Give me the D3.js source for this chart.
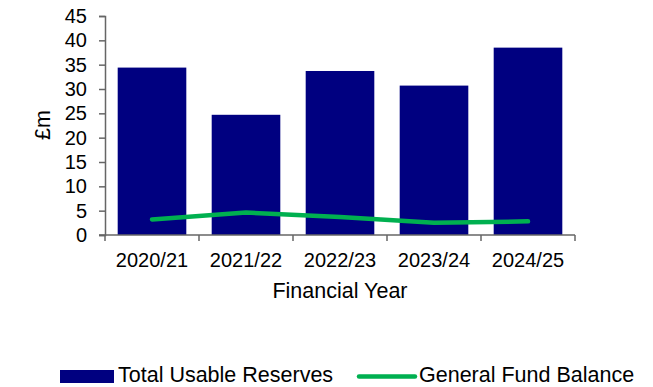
<!DOCTYPE html>
<html>
<head>
<meta charset="utf-8">
<script src="https://cdn.jsdelivr.net/npm/d3@7"></script>
<style>
  html, body { margin: 0; padding: 0; background: #fff; }
  text { font-family: "Liberation Sans", Arial, sans-serif; fill: #000; }
</style>
</head>
<body>
<svg id="chart" width="653" height="387"></svg>
<script>
const categories = ["2020/21", "2021/22", "2022/23", "2023/24", "2024/25"];
const totalUsableReserves = [34.4, 24.7, 33.7, 30.7, 38.5];
const generalFundBalance = [3.2, 4.6, 3.7, 2.5, 2.8];
const yTicks = [0, 5, 10, 15, 20, 25, 30, 35, 40, 45];
const seriesNames = ["Total Usable Reserves", "General Fund Balance"];
const xTitle = "Financial Year";
const yTitle = "£m";

(function () {
const svg = d3.select("#chart");
const fs = 20, fsT = 21.5;
const pLeft = 105, pRight = 575, pTop = 16, pBottom = 235;

const x = d3.scaleBand().domain(categories).range([pLeft, pRight]).paddingInner(0.27).paddingOuter(0.135);
const y = d3.scaleLinear().domain([0, 45]).range([pBottom, pTop]);

// bars
svg.append("g").selectAll("rect").data(categories).join("rect")
  .attr("x", d => x(d))
  .attr("y", (d, i) => y(totalUsableReserves[i]))
  .attr("width", x.bandwidth())
  .attr("height", (d, i) => y(0) - y(totalUsableReserves[i]))
  .attr("fill", "#000080");

// line
const line = d3.line()
  .x((d, i) => x(categories[i]) + x.bandwidth() / 2)
  .y(d => y(d));
svg.append("path").datum(generalFundBalance)
  .attr("d", line)
  .attr("fill", "none")
  .attr("stroke", "#00B050")
  .attr("stroke-width", 4.5)
  .attr("stroke-linecap", "round")
  .attr("stroke-linejoin", "round");

// y axis
const yAxis = svg.append("g").attr("transform", `translate(${pLeft},0)`)
  .call(d3.axisLeft(y).tickValues(yTicks).tickSize(6).tickPadding(12));
yAxis.select(".domain").attr("stroke", "#666").attr("stroke-width", 1.5);
yAxis.selectAll(".tick line").attr("stroke", "#666").attr("stroke-width", 1.5);
yAxis.selectAll("text").style("font-size", fs + "px").attr("fill", "#000")
  .style("font-family", "'Liberation Sans', Arial, sans-serif");

// x axis
const xEdge = d3.scalePoint().domain(d3.range(categories.length + 1)).range([pLeft, pRight]);
const xAxisG = svg.append("g").attr("transform", `translate(0,${pBottom})`);
xAxisG.append("line").attr("x1", pLeft - 6).attr("x2", pRight).attr("y1", 0).attr("y2", 0)
  .attr("stroke", "#666").attr("stroke-width", 1.5);
xAxisG.selectAll("line.tk").data(d3.range(categories.length + 1)).join("line")
  .attr("class", "tk")
  .attr("x1", d => xEdge(d)).attr("x2", d => xEdge(d))
  .attr("y1", 0).attr("y2", 6)
  .attr("stroke", "#666").attr("stroke-width", 1.5);
xAxisG.selectAll("text").data(categories).join("text")
  .attr("x", d => x(d) + x.bandwidth() / 2)
  .attr("y", 32)
  .attr("text-anchor", "middle")
  .style("font-size", fs + "px")
  .text(d => d);

// axis titles
svg.append("text").attr("x", 340).attr("y", 298)
  .attr("text-anchor", "middle").style("font-size", fsT + "px").text(xTitle);
svg.append("text").attr("transform", "translate(50,125) rotate(-90)")
  .attr("text-anchor", "middle").style("font-size", fsT + "px").text(yTitle);

// legend
const lg = svg.append("g");
lg.append("rect").attr("x", 60).attr("y", 370).attr("width", 54).attr("height", 13).attr("fill", "#000080");
lg.append("text").attr("x", 118).attr("y", 381.5).style("font-size", fsT + "px").text(seriesNames[0]);
lg.append("line").attr("x1", 359).attr("x2", 415).attr("y1", 376.5).attr("y2", 376.5)
  .attr("stroke", "#00B050").attr("stroke-width", 4.5).attr("stroke-linecap", "round");
lg.append("text").attr("x", 419).attr("y", 381.5).style("font-size", fsT + "px").text(seriesNames[1]);
})();
</script>
</body>
</html>
